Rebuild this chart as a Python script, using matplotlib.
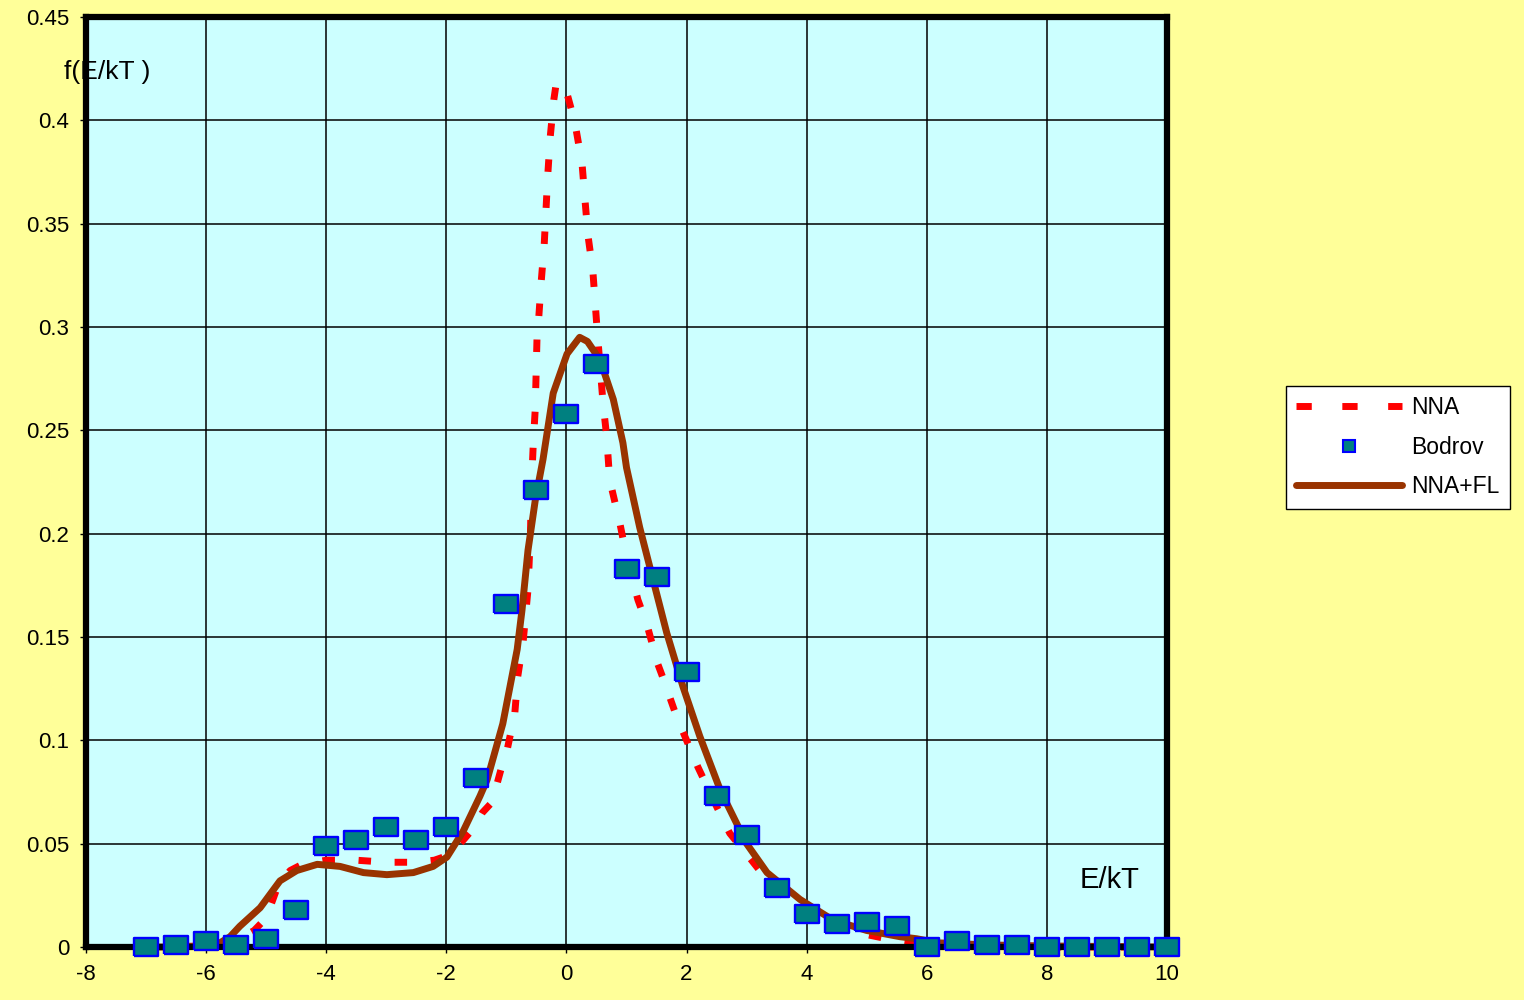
import matplotlib.pyplot as plt
from matplotlib.lines import Line2D

plt.rcParams['font.family'] = ['Liberation Sans', 'DejaVu Sans']
plt.rcParams['axes.unicode_minus'] = False

# ---- data ----
bodrov_x = [-7, -6.5, -6, -5.5, -5, -4.5, -4, -3.5, -3, -2.5, -2, -1.5, -1, -0.5, 0, 0.5,
            1, 1.5, 2, 2.5, 3, 3.5, 4, 4.5, 5, 5.5, 6, 6.5, 7, 7.5, 8, 8.5, 9, 9.5, 10]
bodrov_y = [0.000, 0.001, 0.003, 0.001, 0.004, 0.018, 0.049, 0.052, 0.058, 0.052, 0.058,
            0.082, 0.166, 0.221, 0.258, 0.282, 0.183, 0.179, 0.133, 0.073, 0.054, 0.0285,
            0.016, 0.011, 0.012, 0.010, 0.000, 0.003, 0.001, 0.001, 0.000, 0.000, 0.000,
            0.000, 0.000]

nna_x = [-7, -6, -5.5, -5.2, -5.0, -4.8, -4.6, -4.4, -4.0, -3.5, -3.0, -2.5, -2.2, -2.0,
         -1.8, -1.56, -1.4, -1.24, -1.08, -0.99, -0.86, -0.81, -0.72, -0.64, -0.6, -0.58,
         -0.55, -0.52, -0.49, -0.46, -0.42, -0.37, -0.34, -0.31, -0.27, -0.21, -0.17,
         -0.05, 0.0, 0.14, 0.26, 0.31, 0.36, 0.44, 0.51, 0.61, 0.67, 0.72, 0.89, 1.0,
         1.19, 1.34, 1.52, 1.61, 1.84, 2.19, 2.5, 2.72, 3.0, 3.3, 3.6, 4.0, 4.5, 5.0,
         5.5, 6.0, 7.0, 8.0, 10.0]
nna_y = [0.0, 0.0005, 0.003, 0.008, 0.014, 0.030, 0.037, 0.040, 0.042, 0.042, 0.041,
         0.041, 0.042, 0.044, 0.049, 0.057, 0.065, 0.070, 0.087, 0.095, 0.113, 0.131,
         0.148, 0.173, 0.200, 0.225, 0.245, 0.260, 0.295, 0.305, 0.322, 0.340, 0.357,
         0.374, 0.392, 0.410, 0.418, 0.417, 0.414, 0.399, 0.379, 0.361, 0.344, 0.327,
         0.299, 0.263, 0.247, 0.226, 0.205, 0.189, 0.168, 0.156, 0.137, 0.130, 0.111,
         0.087, 0.068, 0.055, 0.045, 0.034, 0.025, 0.017, 0.010, 0.006, 0.003, 0.001,
         0.0005, 0.0, 0.0]

fl_x = [-7, -6.5, -6, -5.77, -5.6, -5.44, -5.1, -4.77, -4.49, -4.15, -3.77, -3.38, -2.99,
        -2.55, -2.22, -1.99, -1.72, -1.44, -1.32, -1.06, -0.82, -0.74, -0.64, -0.52,
        -0.39, -0.22, 0.01, 0.22, 0.35, 0.56, 0.78, 0.94, 1.0, 1.22, 1.44, 1.67, 1.94,
        2.22, 2.56, 3.0, 3.34, 3.89, 4.44, 5.0, 5.55, 5.83, 6.2, 7.0, 8.0, 10.0]
fl_y = [0.0, 0.0, 0.0005, 0.002, 0.005, 0.010, 0.019, 0.032, 0.037, 0.040, 0.039, 0.036,
        0.035, 0.036, 0.039, 0.0435, 0.056, 0.073, 0.081, 0.108, 0.144, 0.163, 0.192,
        0.216, 0.236, 0.268, 0.287, 0.295, 0.293, 0.284, 0.265, 0.244, 0.232, 0.203,
        0.178, 0.152, 0.126, 0.102, 0.076, 0.050, 0.036, 0.023, 0.013, 0.008, 0.005,
        0.004, 0.002, 0.001, 0.0005, 0.0]

x_ticks = [-8, -6, -4, -2, 0, 2, 4, 6, 8, 10]
y_ticks = [0, 0.05, 0.1, 0.15, 0.2, 0.25, 0.3, 0.35, 0.4, 0.45]
y_labels = ['0', '0.05', '0.1', '0.15', '0.2', '0.25', '0.3', '0.35', '0.4', '0.45']

# ---- figure ----
fig = plt.figure(figsize=(15.24, 10), dpi=100, facecolor='#FFFF99')
ax = fig.add_axes([86 / 1524, 53 / 1000, 1081 / 1524, 930 / 1000])
ax.set_facecolor('#CCFFFF')

rect = [(-1, -0.72), (1, -0.72), (1, 0.72), (-1, 0.72), (-1, -0.72)]

ax.plot(nna_x, nna_y, color='#FF0000', lw=5, linestyle=(0, (1.8, 3.4)),
        dash_capstyle='butt', zorder=3, clip_on=False)
ax.plot(fl_x, fl_y, color='#993300', lw=5, solid_capstyle='round', zorder=4, clip_on=False)
ax.plot(bodrov_x, bodrov_y, linestyle='none', marker=rect, markersize=17.5,
        markerfacecolor='#008080', markeredgecolor='#0000FF', markeredgewidth=1.7,
        zorder=6, clip_on=False)

ax.set_xlim(-8, 10)
ax.set_ylim(0, 0.45)
ax.set_xticks(x_ticks)
ax.set_yticks(y_ticks)
ax.set_yticklabels(y_labels)
ax.grid(True, color='black', lw=1.1)
ax.set_axisbelow(True)
ax.tick_params(direction='out', length=4, width=1, labelsize=16, pad=8)

for s in ax.spines.values():
    s.set_linewidth(4.5)
    s.set_color('black')
    s.set_zorder(5)

fig.text(64 / 1524, 1 - 72 / 1000, 'f(E/kT )', fontsize=19, ha='left', va='center', zorder=10)
fig.text(1110 / 1524, 1 - 880 / 1000, 'E/kT', fontsize=21, ha='center', va='center')

handles = [
    Line2D([], [], color='#FF0000', lw=5, linestyle=(0, (2.2, 4.4)), dash_capstyle='butt'),
    Line2D([], [], linestyle='none', marker='s', markersize=9, markerfacecolor='#008080',
           markeredgecolor='#0000FF', markeredgewidth=1.5),
    Line2D([], [], color='#993300', lw=5, solid_capstyle='round'),
]
leg = fig.legend(handles, ['NNA', 'Bodrov', 'NNA+FL'], loc='upper left',
                 bbox_to_anchor=(1286 / 1524, 1 - 386 / 1000), borderaxespad=0,
                 fontsize=16.5, handlelength=4.6, handletextpad=0.4, labelspacing=0.72,
                 fancybox=False, framealpha=1, edgecolor='black', borderpad=0.45)
leg.get_frame().set_linewidth(1)

fig.savefig('out.png', dpi=100, facecolor=fig.get_facecolor())
